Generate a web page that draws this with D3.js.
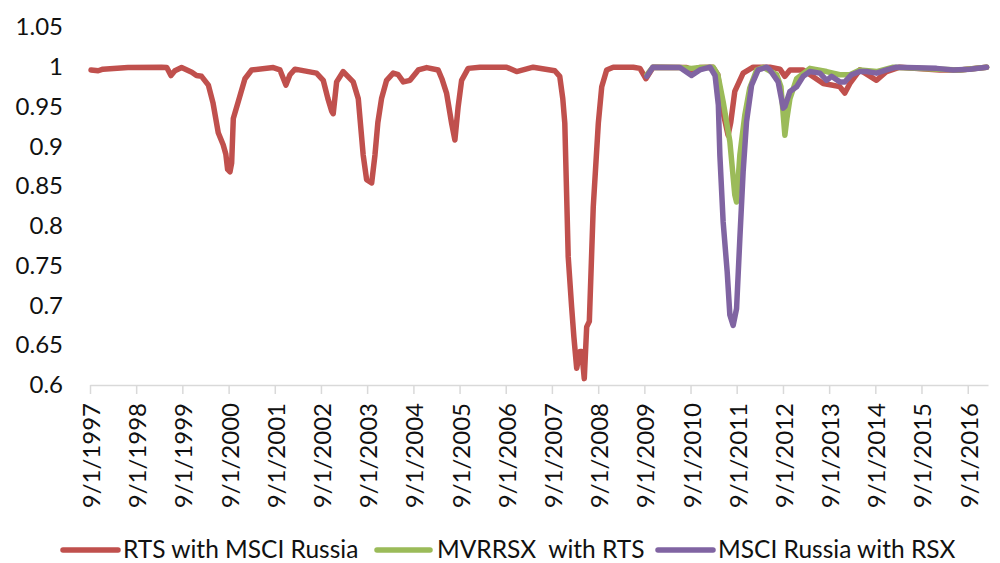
<!DOCTYPE html>
<html>
<head>
<meta charset="utf-8">
<script src="https://cdn.jsdelivr.net/npm/d3@7"></script>
<style>
  html, body { margin: 0; padding: 0; background: #fff; }
  svg { display: block; font-family: Lato, "Open Sans", sans-serif; }
</style>
</head>
<body>
<svg id="chart" width="1000" height="563"></svg>
<script>
// Rolling correlation series
const seriesNames = ["RTS with MSCI Russia", "MVRRSX  with RTS", "MSCI Russia with RSX"];
const seriesColors = ["#C0504D", "#9BBB59", "#8064A2"];

const rtsMsciDates = [
  "1997-09-09","1997-11-05","1997-12-12","1998-06-28","1999-03-20","1999-05-01","1999-06-03","1999-07-04",
  "1999-08-26","1999-11-15","1999-12-22","2000-01-31","2000-03-25","2000-04-30","2000-06-11","2000-07-20",
  "2000-08-10","2000-08-24","2000-09-12","2000-09-25","2000-10-08","2000-11-16","2001-01-08","2001-03-02",
  "2001-08-20","2001-10-12","2001-11-28","2001-12-30","2002-02-08","2002-07-28","2002-09-19","2002-10-26",
  "2002-11-25","2002-12-07","2003-01-03","2003-02-24","2003-05-14","2003-06-23","2003-08-01","2003-08-28",
  "2003-10-07","2003-11-02","2003-11-25","2003-12-24","2004-02-02","2004-03-25","2004-05-04","2004-06-13",
  "2004-08-05","2004-10-10","2004-12-15","2005-03-16","2005-04-14","2005-05-21","2005-06-30","2005-07-26",
  "2005-08-21","2005-09-17","2005-11-08","2006-02-09","2006-09-08","2006-11-26","2007-04-06","2007-09-24",
  "2007-11-02","2007-11-26","2007-12-12","2008-01-08","2008-02-04","2008-02-22","2008-03-15","2008-04-10",
  "2008-04-24","2008-05-14","2008-06-02","2008-06-23","2008-07-24","2008-09-02","2008-09-29","2008-11-07",
  "2008-12-29","2009-06-05","2009-07-28","2009-09-13","2009-11-09","2010-07-31","2010-09-09","2010-11-13",
  "2011-02-25","2011-04-05","2011-05-06","2011-06-25","2011-07-16","2011-08-17","2011-10-22","2012-01-09",
  "2012-05-21","2012-08-08","2012-09-16","2012-10-26","2013-02-08","2013-07-16","2013-09-20","2013-11-24",
  "2014-01-03","2014-02-12","2014-05-02","2014-09-11","2014-11-29","2015-03-14","2016-01-24","2016-07-01",
  "2017-01-28"
];
const rtsMsciValues = [
  0.996,0.995,0.997,0.999,0.9995,0.999,0.989,0.995,
  0.999,0.993,0.989,0.988,0.977,0.955,0.917,0.902,
  0.890,0.871,0.868,0.879,0.935,0.956,0.985,0.996,
  0.999,0.996,0.977,0.990,0.997,0.992,0.983,0.960,
  0.944,0.941,0.981,0.994,0.981,0.960,0.889,0.858,
  0.854,0.889,0.930,0.960,0.983,0.992,0.990,0.981,
  0.983,0.996,0.999,0.996,0.985,0.967,0.929,0.908,
  0.950,0.983,0.998,0.9995,0.9995,0.994,0.9995,0.995,
  0.988,0.960,0.929,0.761,0.698,0.660,0.621,0.642,
  0.642,0.608,0.673,0.680,0.824,0.929,0.975,0.996,
  0.9995,0.9995,0.998,0.985,0.9995,0.999,0.996,0.999,
  0.9995,0.990,0.950,0.914,0.930,0.969,0.992,0.9995,
  0.9995,0.997,0.988,0.996,0.996,0.979,0.977,0.975,
  0.967,0.979,0.996,0.983,0.994,0.9995,0.996,0.996,
  0.9995
];

const mvrrsxRtsDates = [
  "2009-09-21","2009-11-07","2010-06-09","2010-09-09","2010-11-13","2011-02-27","2011-04-05","2011-05-17",
  "2011-07-09","2011-08-17","2011-08-31","2011-09-26","2011-11-04","2011-12-13","2012-02-06","2012-03-29",
  "2012-07-13","2012-08-16","2012-09-16","2012-10-02","2012-10-26","2012-12-18","2013-04-02","2013-08-12",
  "2013-11-24","2014-02-12","2014-05-02","2014-09-11","2015-01-20","2016-01-24","2016-07-01","2017-01-28"
];
const mvrrsxRtsValues = [
  0.990,0.9995,0.999,0.998,0.999,0.9995,0.990,0.956,
  0.906,0.839,0.830,0.889,0.939,0.973,0.996,0.9995,
  0.990,0.975,0.914,0.935,0.960,0.985,0.998,0.994,
  0.990,0.990,0.996,0.994,0.9995,0.997,0.996,0.9995
];

const msciRsxDates = [
  "2009-09-21","2009-11-07","2010-06-09","2010-09-09","2010-11-13","2011-02-02","2011-03-14","2011-04-09",
  "2011-04-21","2011-05-17","2011-06-18","2011-07-09","2011-08-04","2011-08-31","2011-09-26","2011-10-22",
  "2011-11-18","2011-12-28","2012-02-18","2012-04-25","2012-05-21","2012-07-25","2012-09-03","2012-09-16",
  "2012-10-26","2012-12-18","2013-02-08","2013-04-02","2013-06-20","2013-08-12","2013-09-20","2013-11-24",
  "2014-01-03","2014-02-25","2014-05-02","2014-06-24","2014-09-11","2014-11-29","2015-02-16","2015-12-29",
  "2016-05-09","2016-09-18","2017-01-28"
];
const msciRsxValues = [
  0.988,0.9995,0.999,0.989,0.996,0.9995,0.989,0.952,
  0.889,0.805,0.742,0.688,0.675,0.696,0.784,0.868,
  0.931,0.977,0.996,0.9995,0.996,0.981,0.948,0.950,
  0.969,0.975,0.988,0.994,0.992,0.983,0.988,0.981,
  0.981,0.990,0.994,0.994,0.992,0.996,0.9995,0.998,
  0.996,0.997,0.9995
];

// Axis tick labels
const xTickLabels = [
  "9/1/1997","9/1/1998","9/1/1999","9/1/2000","9/1/2001","9/1/2002","9/1/2003","9/1/2004","9/1/2005","9/1/2006",
  "9/1/2007","9/1/2008","9/1/2009","9/1/2010","9/1/2011","9/1/2012","9/1/2013","9/1/2014","9/1/2015","9/1/2016"
];
const yTickValues = [0.6, 0.65, 0.7, 0.75, 0.8, 0.85, 0.9, 0.95, 1, 1.05];
const xDomain = ["1997-09-01", "2017-02-08"];

const parseDay = d3.timeParse("%Y-%m-%d");
const parseTick = d3.timeParse("%-m/%-d/%Y");

const svg = d3.select("#chart");
const plot = { left: 90, right: 988, top: 27, bottom: 385 };

const x = d3.scaleTime()
  .domain(xDomain.map(parseDay))
  .range([plot.left, plot.right]);
const y = d3.scaleLinear()
  .domain([0.6, 1.05])
  .range([plot.bottom, plot.top]);

// Y axis: labels only
const yAxis = svg.append("g")
  .attr("transform", `translate(${plot.left},0)`)
  .call(d3.axisLeft(y).tickValues(yTickValues).tickSize(0).tickPadding(27).tickFormat(d3.format("")));
yAxis.select(".domain").remove();
yAxis.selectAll("text")
  .attr("fill", "#111")
  .style("font-size", "24px")
  .style("font-family", "Lato, sans-serif");

// X axis with rotated date labels
const xAxis = svg.append("g")
  .attr("transform", `translate(0,${plot.bottom})`)
  .call(d3.axisBottom(x)
    .tickValues(xTickLabels.map(parseTick))
    .tickSizeInner(9).tickSizeOuter(0)
    .tickFormat((d, i) => xTickLabels[i]));
xAxis.select(".domain").attr("stroke", "#D9D9D9").attr("stroke-width", 1.5);
xAxis.selectAll(".tick line").attr("stroke", "#D9D9D9").attr("stroke-width", 1.5);
xAxis.selectAll(".tick text")
  .attr("fill", "#111")
  .style("font-size", "24px")
  .style("font-family", "Lato, sans-serif")
  .attr("transform", "rotate(-90)")
  .attr("text-anchor", "end")
  .attr("dominant-baseline", "central")
  .attr("x", -18)
  .attr("y", 0)
  .attr("dy", null);

// Lines
const series = [
  { dates: rtsMsciDates, values: rtsMsciValues },
  { dates: mvrrsxRtsDates, values: mvrrsxRtsValues },
  { dates: msciRsxDates, values: msciRsxValues }
];
const line = d3.line()
  .x(d => x(d[0]))
  .y(d => y(d[1]));

series.forEach((s, i) => {
  const pts = s.dates.map((d, j) => [parseDay(d), s.values[j]]);
  svg.append("path")
    .datum(pts)
    .attr("fill", "none")
    .attr("stroke", seriesColors[i])
    .attr("stroke-width", 5.5)
    .attr("stroke-linejoin", "round")
    .attr("stroke-linecap", "round")
    .attr("d", line);
});

// Legend
const legendItems = [
  { x0: 63, x1: 118, tx: 123 },
  { x0: 377, x1: 430, tx: 437 },
  { x0: 658, x1: 713, tx: 718 }
];
const legendY = 548;
const legend = svg.append("g");
legendItems.forEach((it, i) => {
  legend.append("line")
    .attr("x1", it.x0).attr("x2", it.x1)
    .attr("y1", legendY + 2).attr("y2", legendY + 2)
    .attr("stroke", seriesColors[i])
    .attr("stroke-width", 5.5)
    .attr("stroke-linecap", "round");
  legend.append("text")
    .attr("x", it.tx).attr("y", legendY)
    .attr("dominant-baseline", "central")
    .attr("fill", "#111")
    .style("font-size", "24.5px")
    .style("white-space", "pre")
    .attr("xml:space", "preserve")
    .text(seriesNames[i]);
});
</script>
</body>
</html>
